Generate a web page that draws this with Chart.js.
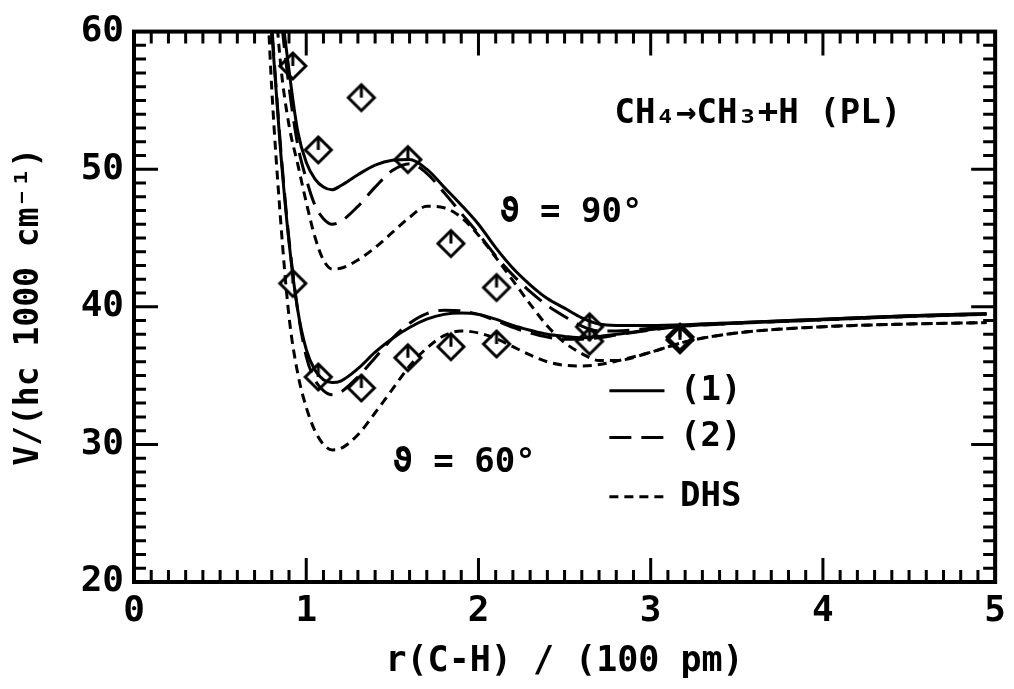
<!DOCTYPE html>
<html>
<head>
<meta charset="utf-8">
<script src="https://cdn.jsdelivr.net/npm/chart.js@4.4.1/dist/chart.umd.min.js"></script>
<style>
  body { margin: 0; background: #fff; }
  canvas { display: block; }
</style>
</head>
<body>
<canvas id="pes" width="1014" height="689"></canvas>
<script>
// r(C-H) grid shared by all six curves, in units of 100 pm
const r = [0.78, 0.8, 0.85, 0.9, 0.95, 1.0, 1.05, 1.1, 1.15, 1.2, 1.3, 1.4, 1.5, 1.6, 1.7, 1.8,
  1.9, 2.0, 2.1, 2.2, 2.3, 2.4, 2.5, 2.6, 2.7, 2.8, 3.0, 3.2, 3.5, 4.0, 4.5, 4.95];

// theta = 90 deg
const pot1_90 = [74, 70, 62.5, 57.2, 52.8, 50.5, 49.3, 48.7, 48.5, 48.8, 49.6, 50.3, 50.65, 50.7, 50.0, 48.7,
  47.4, 46.0, 44.3, 42.8, 41.6, 40.6, 39.9, 39.2, 38.75, 38.65, 38.65, 38.7, 38.85, 39.1, 39.35, 39.5];
const pot2_90 = [72, 68, 61.5, 56.0, 51.8, 49.3, 47.4, 46.4, 46.0, 46.2, 47.3, 48.7, 49.9, 50.4, 49.7, 48.3,
  46.8, 45.3, 43.7, 42.3, 41.1, 40.1, 39.3, 38.6, 38.25, 38.25, 38.45, 38.6, 38.8, 39.05, 39.3, 39.45];
const dhs_90 = [70, 66, 57.8, 53.2, 50.4, 47.6, 45.1, 43.4, 42.75, 42.8, 43.4, 44.3, 45.4, 46.5, 47.3, 47.2,
  46.5, 45.2, 43.6, 41.9, 40.2, 38.6, 37.4, 36.6, 36.1, 36.1, 36.7, 37.45, 38.1, 38.55, 38.75, 38.85];

// theta = 60 deg
const pot1_60 = [64, 60, 51.5, 44.7, 39.8, 36.9, 35.4, 34.7, 34.5, 34.6, 35.5, 36.7, 37.7, 38.5, 39.1, 39.45,
  39.55, 39.45, 39.1, 38.65, 38.3, 38.0, 37.85, 37.75, 37.85, 38.0, 38.35, 38.65, 38.85, 39.1, 39.35, 39.5];
const pot2_60 = [64.5, 60.5, 51.8, 44.9, 39.8, 36.4, 34.7, 33.9, 33.6, 33.8, 34.9, 36.3, 37.7, 38.8, 39.5, 39.75,
  39.7, 39.45, 39.0, 38.5, 38.1, 37.8, 37.65, 37.65, 37.75, 37.95, 38.3, 38.6, 38.8, 39.05, 39.3, 39.45];
const dhs_60 = [60.8, 55.8, 46.5, 39.3, 35.2, 32.7, 31.0, 30.0, 29.6, 29.7, 30.7, 32.3, 34.0, 35.7, 37.0, 37.9,
  38.25, 38.1, 37.7, 37.1, 36.5, 36.0, 35.75, 35.7, 35.8, 36.05, 36.7, 37.45, 38.1, 38.55, 38.75, 38.85];

// ab initio points (diamonds)
const ptR = [0.922, 1.07, 1.32, 1.59, 1.84, 2.105, 2.645, 3.17];
const pt90 = [57.5, 51.4, 55.2, 50.7, 44.6, 41.4, 38.55, 37.8];
const pt60 = [41.7, 34.9, 34.1, 36.3, 37.1, 37.3, 37.5, 37.6];

const xTicks = [0, 1, 2, 3, 4, 5];
const yTicks = [20, 30, 40, 50, 60];
const legendLabels = ["(1)", "(2)", "DHS"];

const FONT = "'DejaVu Sans Mono', monospace";

function pairs(xs, ys) {
  return xs.map((x, i) => ({ x: x, y: ys[i] }));
}

// diamond with a little tick from the top corner
function diamondImage() {
  const c = document.createElement("canvas");
  c.width = 32;
  c.height = 32;
  const g = c.getContext("2d");
  g.strokeStyle = "#000";
  g.lineWidth = 3;
  g.beginPath();
  g.moveTo(16, 3);
  g.lineTo(29, 16);
  g.lineTo(16, 29);
  g.lineTo(3, 16);
  g.closePath();
  g.stroke();
  g.beginPath();
  g.moveTo(16, 3);
  g.lineTo(16, 16);
  g.stroke();
  return c;
}
const diamond = diamondImage();

const styles = {
  solid: [],
  long: [22, 10],
  short: [9, 6]
};

function curve(data, dash) {
  return {
    data: pairs(r, data),
    borderColor: "#000",
    borderWidth: 3,
    borderDash: dash,
    pointRadius: 0,
    fill: false,
    cubicInterpolationMode: "monotone"
  };
}

// ticks pointing into the plot, plus the frame
const framePlugin = {
  id: "frame",
  afterDatasetsDraw(chart) {
    const { ctx, chartArea: a, scales } = chart;
    const xs = scales.x, ys = scales.y;
    ctx.save();
    ctx.strokeStyle = "#000";
    ctx.lineWidth = 3;
    ctx.beginPath();
    for (let i = 0; i <= 50; i++) {
      const v = i / 10;
      const px = xs.getPixelForValue(v);
      const len = i % 10 === 0 ? 24 : 12;
      ctx.moveTo(px, a.bottom);
      ctx.lineTo(px, a.bottom - len);
      ctx.moveTo(px, a.top);
      ctx.lineTo(px, a.top + len);
    }
    for (let v = 20; v <= 60; v++) {
      const py = ys.getPixelForValue(v);
      const len = v % 10 === 0 ? 24 : 12;
      ctx.moveTo(a.left, py);
      ctx.lineTo(a.left + len, py);
      ctx.moveTo(a.right, py);
      ctx.lineTo(a.right - len, py);
    }
    ctx.stroke();
    ctx.lineWidth = 4;
    ctx.strokeRect(a.left, a.top, a.right - a.left, a.bottom - a.top);
    ctx.restore();
  }
};

// labels and the line-style key
const notesPlugin = {
  id: "notes",
  afterDatasetsDraw(chart) {
    const { ctx, scales } = chart;
    const X = v => scales.x.getPixelForValue(v);
    const Y = v => scales.y.getPixelForValue(v);
    ctx.save();
    ctx.fillStyle = "#000";
    ctx.textBaseline = "middle";
    ctx.textAlign = "left";

    ctx.font = "bold 34px " + FONT;
    ctx.fillText("CH₄→CH₃+H (PL)", X(2.79), Y(54.0));

    ctx.font = "bold 34px " + FONT;
    ctx.fillText("ϑ = 90°", X(2.12), Y(46.8));
    ctx.fillText("ϑ = 60°", X(1.50), Y(28.6));

    const rows = [33.9, 30.5, 26.2];
    const dashes = [styles.solid, styles.long, styles.short];
    ctx.strokeStyle = "#000";
    ctx.lineWidth = 3;
    rows.forEach((yv, i) => {
      ctx.setLineDash(dashes[i]);
      ctx.beginPath();
      ctx.moveTo(X(2.76), Y(yv));
      ctx.lineTo(X(3.08), Y(yv));
      ctx.stroke();
      ctx.fillText(legendLabels[i], X(3.17), Y(yv));
    });
    ctx.restore();
  }
};

new Chart(document.getElementById("pes"), {
  type: "line",
  data: {
    datasets: [
      curve(pot1_90, styles.solid),
      curve(pot2_90, styles.long),
      curve(dhs_90, styles.short),
      curve(pot1_60, styles.solid),
      curve(pot2_60, styles.long),
      curve(dhs_60, styles.short),
      {
        data: pairs(ptR, pt90),
        showLine: false,
        pointStyle: diamond,
        pointRadius: 13
      },
      {
        data: pairs(ptR, pt60),
        showLine: false,
        pointStyle: diamond,
        pointRadius: 13
      }
    ]
  },
  options: {
    responsive: false,
    animation: false,
    devicePixelRatio: 1,
    layout: { padding: { left: 0, right: 18, top: 30, bottom: 0 } },
    plugins: {
      legend: { display: false },
      tooltip: { enabled: false }
    },
    scales: {
      x: {
        type: "linear",
        min: 0,
        max: 5,
        afterBuildTicks: s => { s.ticks = xTicks.map(v => ({ value: v })); },
        afterFit: s => { s.height = 107; },
        grid: { display: false, drawTicks: false },
        border: { display: false },
        ticks: {
          color: "#000",
          padding: 8,
          font: { family: FONT, size: 36, weight: "bold" }
        },
        title: {
          display: true,
          text: "r(C-H) / (100 pm)",
          color: "#000",
          padding: { top: 0, bottom: 6 },
          font: { family: FONT, size: 35, weight: "bold" }
        }
      },
      y: {
        type: "linear",
        min: 20,
        max: 60,
        afterBuildTicks: s => { s.ticks = yTicks.map(v => ({ value: v })); },
        afterFit: s => { s.width = 134; },
        grid: { display: false, drawTicks: false },
        border: { display: false },
        ticks: {
          color: "#000",
          padding: 10,
          font: { family: FONT, size: 36, weight: "bold" }
        },
        title: {
          display: true,
          text: "V/(hc 1000 cm⁻¹)",
          color: "#000",
          padding: { top: 10, bottom: 0 },
          font: { family: FONT, size: 33, weight: "bold" }
        }
      }
    }
  },
  plugins: [framePlugin, notesPlugin]
});
</script>
</body>
</html>
